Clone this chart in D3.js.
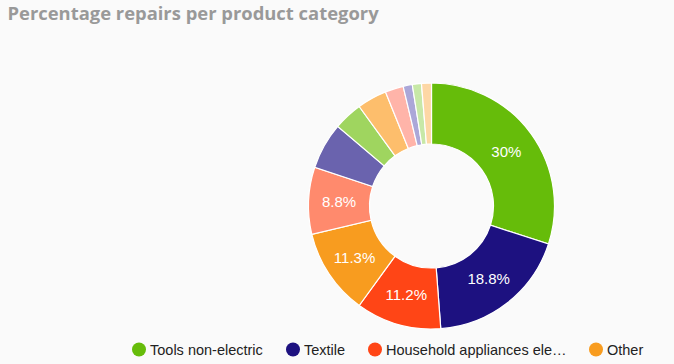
<!DOCTYPE html>
<html><head><meta charset="utf-8">
<script src="https://cdn.jsdelivr.net/npm/d3@7"></script>
<style>
html,body{margin:0;padding:0;background:#fafafa;}
svg{display:block;}
</style></head>
<body>
<svg id="chart" width="674" height="364"></svg>
<script>
const title = "Percentage repairs per product category";
const categories = ["Tools non-electric","Textile","Household appliances electric","Other","Display & sound","Computers/phones","Furniture","Bicycles","Toys","Jewellery","Clocks/watches","Household appliances non-electric"];
const values = [30, 18.8, 11.2, 11.3, 8.8, 6.1, 3.8, 3.9, 2.4, 1.2, 1.2, 1.3];
const colors = ["#66bc0a","#1d1180","#ff4516","#f89c1f","#ff8a6d","#6a63ae","#9fd55f","#fdbe6c","#ffb4a9","#aba7d8","#c7e8a7","#fdd7a5"];
const legendCount = 4;

const svg = d3.select("#chart");
svg.append("rect").attr("width",674).attr("height",364).attr("fill","#fafafa");
svg.append("text").attr("x",7.5).attr("y",20)
  .attr("font-family","'Open Sans', sans-serif").attr("font-weight",700)
  .attr("font-size",18.4).attr("fill","#999999").text(title);

const cx = 431.5, cy = 206, rOut = 123, rIn = 62;
const data = categories.map((c,i)=>({name:c,value:values[i],color:colors[i]}));
const pie = d3.pie().sort(null).value(d=>d.value);
const arc = d3.arc().innerRadius(rIn).outerRadius(rOut);
const g = svg.append("g").attr("transform",`translate(${cx},${cy})`);
const arcs = pie(data);
g.selectAll("path").data(arcs).join("path")
  .attr("d",arc).attr("fill",d=>d.data.color)
  .attr("stroke","#ffffff").attr("stroke-width",1.2);
g.selectAll("text").data(arcs.filter(d=>d.data.value>=8)).join("text")
  .attr("transform",d=>`translate(${arc.centroid(d)})`)
  .attr("text-anchor","middle").attr("dy","0.35em")
  .attr("font-family","'Liberation Sans', Arial, sans-serif")
  .attr("font-size",15).attr("fill","#ffffff")
  .text(d=>d.data.value+"%");

// legend
const legendX = [139, 293, 375, 596];
const lg = svg.append("g");
const maxChars = 25;
data.slice(0,legendCount).forEach((d,i)=>{
  const x = legendX[i];
  lg.append("circle").attr("cx",x).attr("cy",349.5).attr("r",7).attr("fill",d.color);
  let label = d.name.length>maxChars ? d.name.slice(0,maxChars-1).trimEnd()+"…" : d.name;
  lg.append("text").attr("x",x+11).attr("y",355)
    .attr("font-family","'Liberation Sans', Arial, sans-serif")
    .attr("font-size",14.5).attr("fill","#222222").text(label);
});
</script>
</body></html>
